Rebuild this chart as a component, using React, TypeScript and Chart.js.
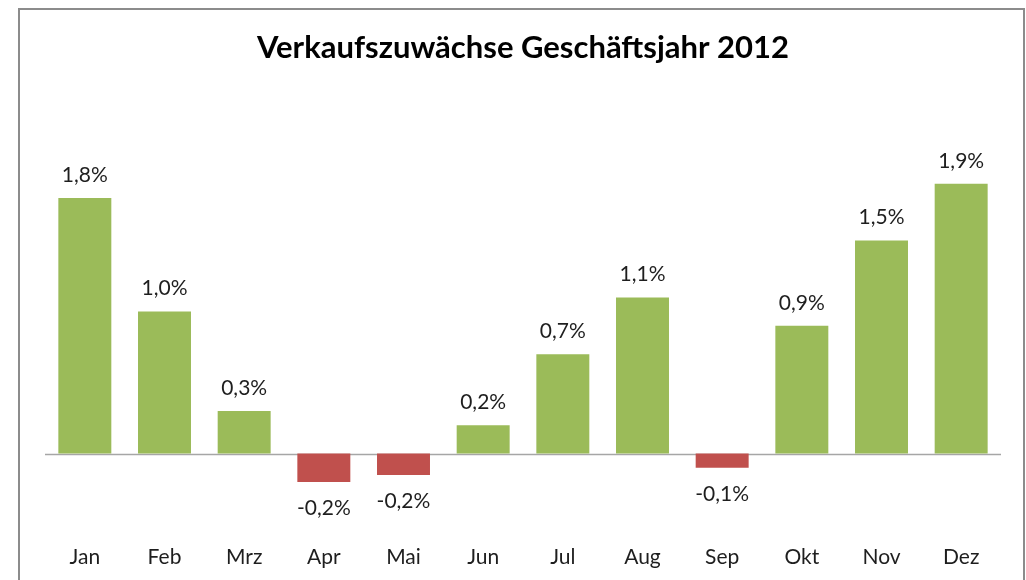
import React, { useEffect, useRef } from "react";
import { Chart, registerables } from "chart.js";

Chart.register(...registerables);

const months = ["Jan", "Feb", "Mrz", "Apr", "Mai", "Jun", "Jul", "Aug", "Sep", "Okt", "Nov", "Dez"];
const growth = [1.8, 1.0, 0.3, -0.2, -0.15, 0.2, 0.7, 1.1, -0.1, 0.9, 1.5, 1.9];
const titleText = "Verkaufszuwächse Geschäftsjahr 2012";

const GREEN = "#9BBB59";
const RED = "#C0504D";
const FONT = "Lato, 'Noto Sans', sans-serif";

function fmt(v: number): string {
  const r = (Math.sign(v) * Math.round(Math.abs(v) * 10)) / 10;
  return r.toFixed(1).replace(".", ",") + "%";
}

const framePlugin = {
  id: "frame",
  beforeDraw(chart: any) {
    const ctx = chart.ctx;
    ctx.save();
    ctx.fillStyle = "#ffffff";
    ctx.fillRect(0, 0, chart.width, chart.height);
    ctx.strokeStyle = "#8c8c8c";
    ctx.lineWidth = 2;
    ctx.strokeRect(19, 9, 1005, 600);
    ctx.restore();
  },
};

const zeroLinePlugin = {
  id: "zeroLine",
  beforeDatasetsDraw(chart: any) {
    const { ctx, chartArea, scales } = chart;
    const y = Math.round(scales.y.getPixelForValue(0)) + 0.5;
    ctx.save();
    ctx.strokeStyle = "#a6a6a6";
    ctx.lineWidth = 1.5;
    ctx.beginPath();
    ctx.moveTo(chartArea.left, y);
    ctx.lineTo(chartArea.right, y);
    ctx.stroke();
    ctx.restore();
  },
};

const labelPlugin = {
  id: "valueLabels",
  afterDatasetsDraw(chart: any) {
    const ctx = chart.ctx;
    const meta = chart.getDatasetMeta(0);
    const data = chart.data.datasets[0].data as number[];
    ctx.save();
    ctx.font = `21px ${FONT}`;
    ctx.fillStyle = "#1e1e1e";
    ctx.textAlign = "center";
    ctx.textBaseline = "middle";
    meta.data.forEach((el: any, i: number) => {
      const v = data[i];
      const y = v >= 0 ? el.y - 23 : el.y + 26;
      ctx.fillText(fmt(v), el.x, y);
    });
    ctx.restore();
  },
};

export default function App() {
  const ref = useRef<HTMLCanvasElement>(null);

  useEffect(() => {
    if (!ref.current) return;
    const chart = new Chart(ref.current, {
      type: "bar",
      data: {
        labels: months,
        datasets: [
          {
            data: growth,
            backgroundColor: growth.map((v) => (v >= 0 ? GREEN : RED)),
            borderWidth: 0,
            categoryPercentage: 1,
            barPercentage: 0.665,
          },
        ],
      },
      options: {
        responsive: false,
        animation: false,
        layout: { padding: { left: 45, right: 25, top: 0, bottom: 4 } },
        plugins: {
          legend: { display: false },
          tooltip: { enabled: false },
          title: {
            display: true,
            text: titleText,
            color: "#000000",
            font: { family: FONT, size: 31, weight: "bold" },
            padding: { top: 29, bottom: 75 },
          },
        },
        scales: {
          x: {
            grid: { display: false, drawTicks: false },
            border: { display: false },
            ticks: { color: "#1e1e1e", font: { family: FONT, size: 21 }, padding: 6 },
          },
          y: {
            display: false,
            min: -0.6,
            max: 2.2,
          },
        },
      },
      plugins: [framePlugin, zeroLinePlugin, labelPlugin],
    });
    return () => chart.destroy();
  }, []);

  return (
    <div style={{ position: "fixed", left: 0, top: 0, width: 1026, height: 580, background: "#fff" }}>
      <canvas ref={ref} width={1026} height={580} style={{ display: "block" }} />
    </div>
  );
}
